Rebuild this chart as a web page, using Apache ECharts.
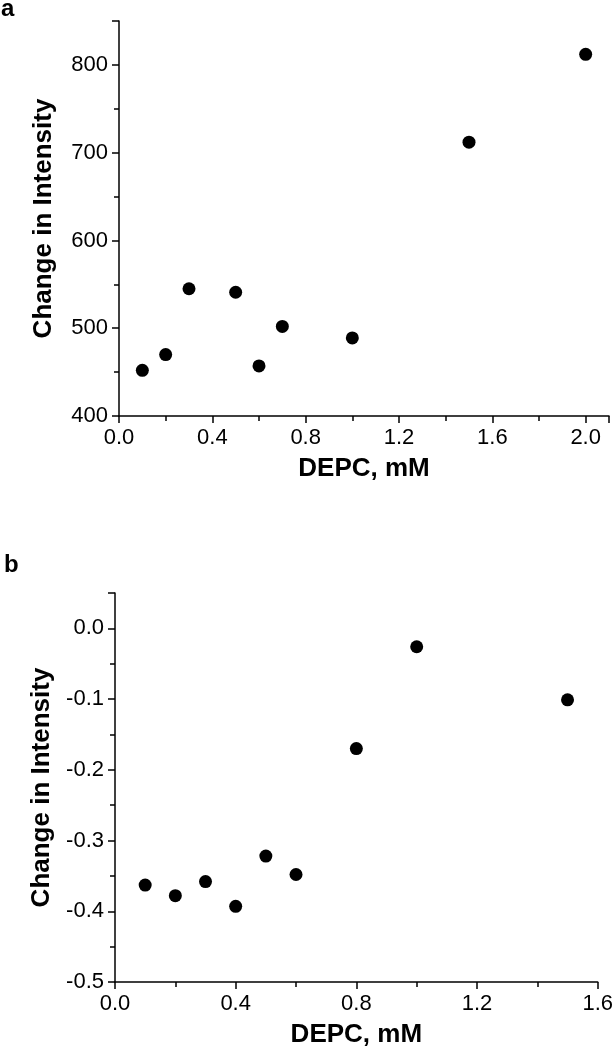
<!DOCTYPE html>
<html>
<head>
<meta charset="utf-8">
<script src="https://cdn.jsdelivr.net/npm/echarts@6/dist/echarts.min.js"></script>
<style>
  html, body { margin: 0; padding: 0; background: #fff; }
  #chart { width: 616px; height: 1049px; }
</style>
</head>
<body>
<div id="chart"></div>
<script>
// panel a
const depcA = [0.1, 0.2, 0.3, 0.5, 0.6, 0.7, 1.0, 1.5, 2.0];
const intensityA = [452, 470, 545, 541, 457, 502, 489, 712, 812];
// panel b
const depcB = [0.1, 0.2, 0.3, 0.4, 0.5, 0.6, 0.8, 1.0, 1.5];
const intensityB = [-0.363, -0.378, -0.358, -0.393, -0.322, -0.348, -0.170, -0.026, -0.101];

const xTitle = 'DEPC, mM';
const yTitle = 'Change in Intensity';

const chart = echarts.init(document.getElementById('chart'));

const font = 'Liberation Sans, Arial, sans-serif';
const black = '#000';

function axisBase(extra, labelExtra) {
  return Object.assign({
    axisLine: { show: true, onZero: false, lineStyle: { color: black, width: 1.5 } },
    axisTick: { show: true, inside: false, length: 7, lineStyle: { color: black, width: 1.5 } },
    minorTick: { show: true, splitNumber: 2, length: 5, lineStyle: { color: black, width: 1.5 } },
    splitLine: { show: false },
    axisLabel: Object.assign({ color: black, fontFamily: font, fontSize: 22, margin: 11, showMaxLabel: false }, labelExtra),
    nameTextStyle: { color: black, fontFamily: font, fontSize: 26, fontWeight: 'bold' }
  }, extra);
}

const fmt1 = v => v.toFixed(1);

const option = {
  animation: false,
  backgroundColor: '#fff',
  graphic: [
    { type: 'text', left: 1, top: -3, style: { text: 'a', font: 'bold 24px ' + font, fill: black } },
    { type: 'text', left: 4, top: 553, style: { text: 'b', font: 'bold 24px ' + font, fill: black } }
  ],
  grid: [
    { left: 119, top: 21, width: 490, height: 395 },
    { left: 115, top: 593, width: 483, height: 389 }
  ],
  xAxis: [
    axisBase({
      gridIndex: 0, type: 'value', min: 0, max: 2.1, interval: 0.4,
      name: xTitle, nameLocation: 'middle', nameGap: 40
    }, { formatter: fmt1 }),
    axisBase({
      gridIndex: 1, type: 'value', min: 0, max: 1.6, interval: 0.4,
      name: xTitle, nameLocation: 'middle', nameGap: 40
    }, { formatter: fmt1, showMaxLabel: true })
  ],
  yAxis: [
    axisBase({
      gridIndex: 0, type: 'value', min: 400, max: 850, interval: 100,
      name: yTitle, nameLocation: 'middle', nameGap: 62, nameRotate: 90
    }),
    axisBase({
      gridIndex: 1, type: 'value', min: -0.5, max: 0.05, interval: 0.1,
      name: yTitle, nameLocation: 'middle', nameGap: 60, nameRotate: 90
    }, { formatter: fmt1 })
  ],
  series: [
    {
      type: 'scatter', xAxisIndex: 0, yAxisIndex: 0,
      symbolSize: 13, itemStyle: { color: black, opacity: 1 },
      data: depcA.map((x, i) => [x, intensityA[i]])
    },
    {
      type: 'scatter', xAxisIndex: 1, yAxisIndex: 1,
      symbolSize: 13, itemStyle: { color: black, opacity: 1 },
      data: depcB.map((x, i) => [x, intensityB[i]])
    }
  ]
};

chart.setOption(option);
</script>
</body>
</html>
